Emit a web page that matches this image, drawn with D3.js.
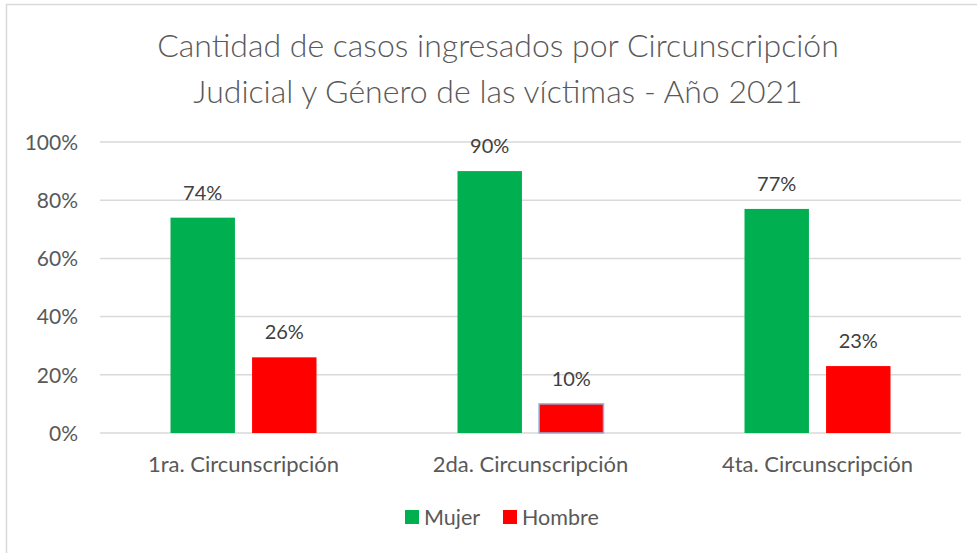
<!DOCTYPE html>
<html>
<head>
<meta charset="utf-8">
<script src="https://cdn.jsdelivr.net/npm/d3@7"></script>
<style>
  body { margin: 0; background: #fff; }
  svg { display: block; font-family: Lato, "Open Sans", sans-serif; }
</style>
</head>
<body>
<div id="chart"></div>
<script>
// Casos ingresados por circunscripción y género
const categories = ["1ra. Circunscripción", "2da. Circunscripción", "4ta. Circunscripción"];
const seriesNames = ["Mujer", "Hombre"];
const mujer = [0.74, 0.90, 0.77];
const hombre = [0.26, 0.10, 0.23];
const yTicks = [0, 0.2, 0.4, 0.6, 0.8, 1.0];
const titleLines = ["Cantidad de casos ingresados por Circunscripción",
                    "Judicial y Género de las víctimas - Año 2021"];

const colors = { "Mujer": "#00B050", "Hombre": "#FF0000" };

const width = 977, height = 553;
const svg = d3.select("#chart").append("svg")
    .attr("width", width)
    .attr("height", height);

// chart border (top and left only visible)
svg.append("line").attr("x1", 6).attr("x2", width).attr("y1", 4.5).attr("y2", 4.5)
    .attr("stroke", "#d9d9d9").attr("stroke-width", 1.5);
svg.append("line").attr("x1", 6.5).attr("x2", 6.5).attr("y1", 4).attr("y2", height)
    .attr("stroke", "#d9d9d9").attr("stroke-width", 1.5);

// title
svg.append("g").selectAll("text")
    .data(titleLines)
    .enter().append("text")
    .attr("x", 498)
    .attr("y", (d, i) => 57 + i * 46)
    .attr("text-anchor", "middle")
    .attr("fill", "#595959")
    .style("font-size", "32px")
    .style("font-weight", 300)
    .text(d => d);

const x = d3.scaleBand().domain(categories).range([100, 961]).padding(0);
const sub = d3.scaleBand().domain(seriesNames).range([-73, 73]).paddingInner(0.21);
const y = d3.scaleLinear().domain([0, 1]).range([433, 142]);

// gridlines
svg.append("g").selectAll("line")
    .data(yTicks)
    .enter().append("line")
    .attr("x1", 100).attr("x2", 961)
    .attr("y1", d => y(d)).attr("y2", d => y(d))
    .attr("stroke", "#d9d9d9").attr("stroke-width", 1.5);

// y axis labels
const yAxis = svg.append("g")
    .attr("transform", "translate(100,0)")
    .call(d3.axisLeft(y).tickValues(yTicks).tickFormat(d3.format(".0%")).tickSize(0).tickPadding(22));
yAxis.select(".domain").remove();
yAxis.selectAll("text")
    .attr("fill", "#595959")
    .attr("dy", "0.35em")
    .style("font-size", "21px")
    .style("font-family", "Lato, sans-serif");

// x axis labels
const xAxis = svg.append("g")
    .attr("transform", "translate(0,433)")
    .call(d3.axisBottom(x).tickSize(0).tickPadding(23));
xAxis.select(".domain").remove();
xAxis.selectAll("text")
    .attr("fill", "#595959")
    .style("font-size", "22px")
    .style("font-family", "Lato, sans-serif");

const rows = [];
categories.forEach((c, i) => {
    rows.push({ cat: c, series: "Mujer", value: mujer[i] });
    rows.push({ cat: c, series: "Hombre", value: hombre[i] });
});

const cx = d => x(d.cat) + x.bandwidth() / 2 + sub(d.series);

svg.append("g").selectAll("rect")
    .data(rows)
    .enter().append("rect")
    .attr("x", d => cx(d))
    .attr("width", sub.bandwidth())
    .attr("y", d => y(d.value))
    .attr("height", d => y(0) - y(d.value))
    .attr("fill", d => colors[d.series])
    .attr("stroke", d => d.cat === categories[1] && d.series === "Hombre" ? "#8fb4e3" : "none")
    .attr("stroke-width", 1.5);

svg.append("g").selectAll("text")
    .data(rows)
    .enter().append("text")
    .attr("x", d => cx(d) + sub.bandwidth() / 2)
    .attr("y", d => y(d.value) - 18)
    .attr("text-anchor", "middle")
    .attr("fill", "#404040")
    .style("font-size", "20px")
    .text(d => d3.format(".0%")(d.value));

// legend
const legend = svg.append("g").selectAll("g")
    .data(seriesNames)
    .enter().append("g")
    .attr("transform", (d, i) => `translate(${i === 0 ? 405 : 503},510)`);
legend.append("rect")
    .attr("width", 14).attr("height", 14)
    .attr("fill", d => colors[d]);
legend.append("text")
    .attr("x", 19).attr("y", 14.5)
    .attr("fill", "#595959")
    .style("font-size", "21.5px")
    .text(d => d);
</script>
</body>
</html>
